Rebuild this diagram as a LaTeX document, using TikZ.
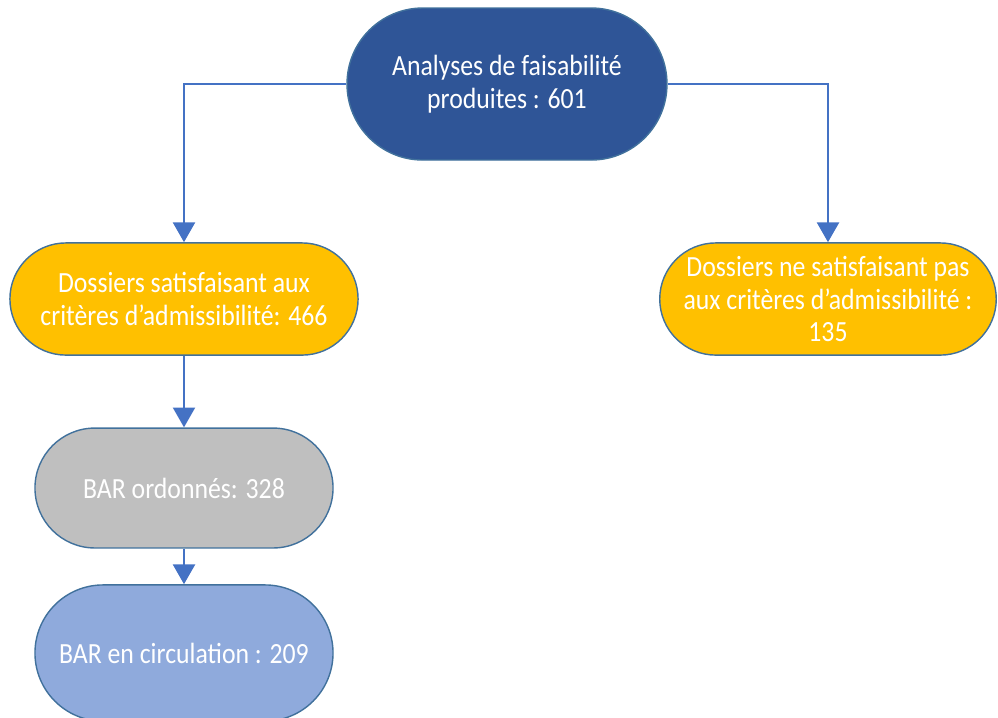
\documentclass[tikz,border=0pt]{standalone}
\usepackage{fontspec}
\setmainfont[FakeStretch=0.88]{Carlito}
\usetikzlibrary{arrows.meta}

\definecolor{darkblue}{HTML}{2F5597}
\definecolor{amber}{HTML}{FFC000}
\definecolor{midgray}{HTML}{BFBFBF}
\definecolor{paleblue}{HTML}{8FAADC}
\definecolor{edgeblue}{HTML}{41719C}
\definecolor{linkblue}{HTML}{4472C4}

\tikzset{
    pill/.style={rectangle, draw=edgeblue, line width=0.4pt, text=white,
        align=center, inner sep=1pt, font=\fontsize{8.3}{9.2}\selectfont},
    link/.style={draw=linkblue, line width=0.7pt, -{Triangle[width=6.2pt,length=5.6pt]}},
}

\begin{document}
\begin{tikzpicture}[x=0.2835pt, y=-0.2835pt]

    % Frame
    \useasboundingbox (0,0) rectangle (998,717);

    %% Feasibility flow

    % Top
    \node[pill, fill=darkblue, minimum width=90.7pt, minimum height=43.1pt, rounded corners=21.5pt]
        (analyses) at (507,84) {Analyses de faisabilité\\produites : 601};

    % Second row
    \node[pill, fill=amber, minimum width=98.7pt, minimum height=31.8pt, rounded corners=15.9pt]
        (admis) at (184,299) {Dossiers satisfaisant aux\\critères d’admissibilité: 466};
    \node[pill, fill=amber, minimum width=95.4pt, minimum height=31.8pt, rounded corners=15.9pt]
        (nonadmis) at (828,299) {Dossiers ne satisfaisant pas\\aux critères d’admissibilité :\\135};

    % Left column
    \node[pill, fill=midgray, minimum width=84.5pt, minimum height=34pt, rounded corners=17pt]
        (ordonnes) at (184,488) {BAR ordonnés: 328};
    \node[pill, fill=paleblue, minimum width=84.5pt, minimum height=38.6pt, rounded corners=19.3pt]
        (circulation) at (184,653) {BAR en circulation : 209};

    % Links
    \draw[link] (analyses.west) -| (admis.north);
    \draw[link] (analyses.east) -| (nonadmis.north);
    \draw[link] (admis.south) -- (ordonnes.north);
    \draw[link] (ordonnes.south) -- (circulation.north);

\end{tikzpicture}
\end{document}
